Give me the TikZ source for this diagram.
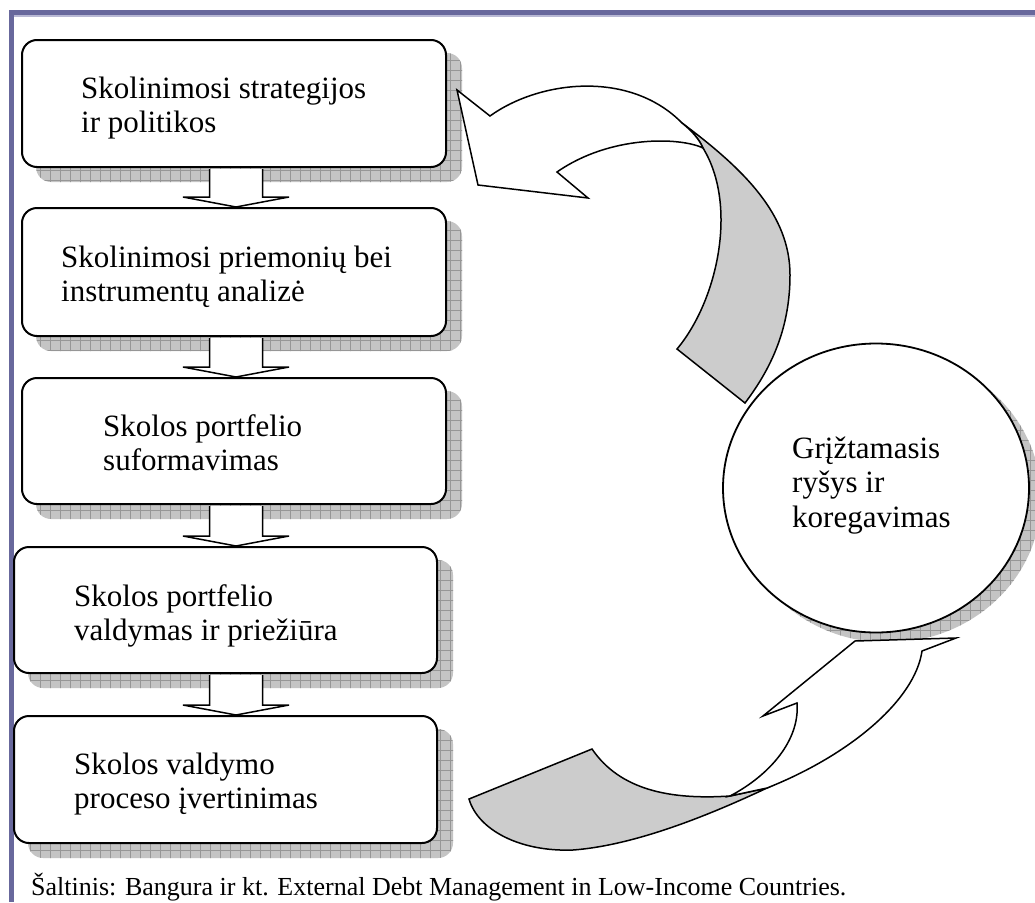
\documentclass[tikz,border=0pt]{standalone}
\usepackage{fontspec}
\setmainfont{Liberation Serif}
\usetikzlibrary{calc,shapes.geometric}

\definecolor{framecol}{RGB}{104,104,156}
\definecolor{framelight}{RGB}{184,184,212}
\definecolor{shadowfill}{RGB}{196,196,196}
\definecolor{shadowgrid}{RGB}{150,150,150}
\definecolor{bandgray}{RGB}{204,204,204}

\pgfdeclarelayer{background}
\pgfsetlayers{background,main}

\newcommand\boxfont{\fontsize{31}{34.5}\selectfont}
\newcommand\stackedlines[1]{\vtop{#1}}

\tikzset{
  stepbox/.style={draw, line width=2pt, fill=white, rounded corners=15pt, inner sep=0pt},
  loopnode/.style={ellipse, draw, line width=1.8pt, fill=white,
    inner sep=0pt, minimum width=306pt, minimum height=289pt},
  label/.style={anchor=base west, inner sep=0pt, font=\boxfont},
  blockarrow/.style={draw, fill=white, line width=1.5pt, line join=miter},
  bentface/.style={draw, fill=white, line width=1.5pt, line join=miter},
  bentback/.style={draw, fill=bandgray, line width=1.5pt, line join=miter},
  shadowlines/.style={draw=shadowgrid, line width=0.5pt},
}

\begin{document}
\begin{tikzpicture}[x=1pt,y=-1pt]
\useasboundingbox (0,0) rectangle (1035,902);

% process steps
\node[stepbox, minimum width=424pt, minimum height=127pt] (b1) at (234,103.5) {};
\node[stepbox, minimum width=424pt, minimum height=128pt] (b2) at (234,272) {};
\node[stepbox, minimum width=424pt, minimum height=126pt] (b3) at (234,441) {};
\node[stepbox, minimum width=423pt, minimum height=126pt] (b4) at (225.5,610) {};
\node[stepbox, minimum width=423pt, minimum height=127pt] (b5) at (225.5,779.5) {};

% feedback circle
\node[loopnode] (fb) at (876,488) {};

% page, frame and gridded drop shadows behind the steps and the circle
\begin{pgfonlayer}{background}
  \fill[white] (0,0) rectangle (1035,902);
  \fill[framelight] (14,15) rectangle (1035,16.5);
  \fill[framecol] (9,10) rectangle (1035,15);
  \fill[framecol] (9,10) rectangle (14,902);
  \foreach \n in {b1,b2,b3,b4,b5}{
    \coordinate (snw) at ([shift={(15,14)}]\n.north west);
    \coordinate (sse) at ([shift={(15,14)}]\n.south east);
    \fill[shadowfill, rounded corners=15pt] (snw) rectangle (sse);
    \begin{scope}
      \clip[rounded corners=15pt] (snw) rectangle (sse);
      \draw[shadowlines, step=10pt] (0,0) grid (1040,900);
    \end{scope}
  }
  \coordinate (sc) at ([shift={(12,10)}]fb.center);
  \fill[shadowfill] (sc) ellipse [x radius=153, y radius=144.5];
  \begin{scope}
    \clip (sc) ellipse [x radius=153, y radius=144.5];
    \draw[shadowlines, step=10pt] (0,0) grid (1040,900);
  \end{scope}
\end{pgfonlayer}

% step texts
\node[label] (t1) at (81,98) {\stackedlines{\hbox{Skolinimosi strategijos}\hbox{ir politikos}}};
\node[label] (t2) at (61,267) {\stackedlines{\hbox{Skolinimosi priemonių bei}\hbox{instrumentų analizė}}};
\node[label] (t3) at (103,436) {\stackedlines{\hbox{Skolos portfelio}\hbox{suformavimas}}};
\node[label] (t4) at (74,606) {\stackedlines{\hbox{Skolos portfelio}\hbox{valdymas ir priežiūra}}};
\node[label] (t5) at (74,774) {\stackedlines{\hbox{Skolos valdymo}\hbox{proceso įvertinimas}}};
\node[label] (tc) at (792,458) {\stackedlines{\hbox{Grįžtamasis}\hbox{ryšys ir}\hbox{koregavimas}}};

% block arrows between steps
\coordinate (ax) at (236,0);
\foreach \a/\b in {b1/b2,b2/b3,b3/b4,b4/b5}{
  \coordinate (s) at (ax |- \a.south);
  \coordinate (e) at (ax |- \b.north);
  \path[blockarrow] ($(s)+(-26.5,1.2)$) -- ($(e)+(-26.5,-10)$) -- ($(e)+(-53,-10)$)
    -- (e) -- ($(e)+(53,-10)$) -- ($(e)+(26.5,-10)$) -- ($(s)+(26.5,1.2)$);
}

% upper bent arrow: back side of the band
\path[bentback] (682,123) .. controls (745,170) and (790,215) .. (790,275)
  .. controls (790,330) and (770,370) .. (745,403)
  -- (677,349) .. controls (718,300) and (738,205) .. (703,148)
  .. controls (699,139) and (692,131) .. (682,123) -- cycle;
% upper bent arrow: front side with head
\path[bentface] (457,90) -- (490,116)
  .. controls (540,80) and (630,70) .. (682,123)
  .. controls (692,131) and (699,139) .. (703,148)
  .. controls (680,137) and (610,135) .. (557,172)
  -- (588,198) -- (478,185) -- cycle;

% lower bent arrow: back side of the band
\path[bentback] (469,799) -- (592,749)
  .. controls (620,790) and (670,800) .. (730,796)
  -- (767,788)
  .. controls (720,810) and (640,845) .. (573,850)
  .. controls (520,852) and (478,830) .. (469,799) -- cycle;
% lower bent arrow: front side with head
\path[bentface] (730,796) .. controls (770,775) and (800,740) .. (797,703)
  -- (763,716) -- (855,641) -- (956,638) -- (922,651)
  .. controls (915,700) and (850,755) .. (767,788) -- cycle;

% source line
\node[anchor=base west, inner sep=0pt, font=\fontsize{26}{30}\selectfont] (src) at (31,895)
  {Šaltinis: Bangura ir kt. External Debt Management in Low-Income Countries.};
\end{tikzpicture}
\end{document}
